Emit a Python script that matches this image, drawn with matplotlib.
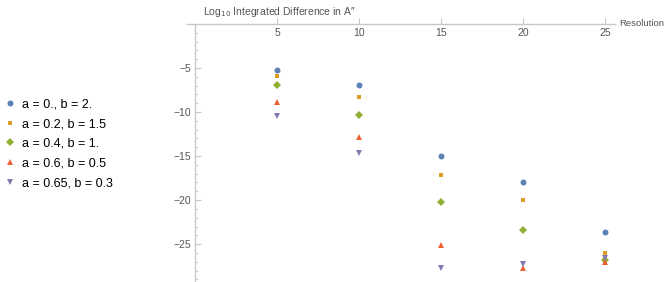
import matplotlib.pyplot as plt
from matplotlib.ticker import MultipleLocator

plt.rcParams['font.family'] = ['Liberation Sans', 'DejaVu Sans']

resolution = [5, 10, 15, 20, 25]
labels = ['a = 0., b = 2.', 'a = 0.2, b = 1.5', 'a = 0.4, b = 1.',
          'a = 0.6, b = 0.5', 'a = 0.65, b = 0.3']
diff_a0 = [-5.26, -6.93, -14.96, -17.9, -23.6]
diff_a02 = [-5.95, -8.26, -17.16, -20.0, -26.06]
diff_a04 = [-6.97, -10.34, -20.26, -23.37, -26.85]
diff_a06 = [-8.85, -12.8, -25.1, -27.7, -27.0]
diff_a065 = [-10.4, -14.6, -27.76, -27.2, -26.55]

series = [diff_a0, diff_a02, diff_a04, diff_a06, diff_a065]
colors = ['#5E81B5', '#E19C24', '#8FB032', '#EB6235', '#8778B3']
markers = ['o', 's', 'D', '^', 'v']
sizes = [4.3, 3.2, 3.8, 4.5, 4.5]

fig = plt.figure(figsize=(6.64, 2.82), dpi=100)
ax = fig.add_axes([187 / 664, 0.0, (615 - 187) / 664, 258 / 282])

for vals, lab, c, m, s in zip(series, labels, colors, markers, sizes):
    ax.plot(resolution, vals, linestyle='none', marker=m, color=c,
            markersize=s, markeredgewidth=0, label=lab, clip_on=False)

ax.set_xlim(-0.5, 25.6)
ax.set_ylim(-29.3, 0)

axis_col = '#c8c8c8'
ax.spines['top'].set_visible(False)
ax.spines['right'].set_visible(False)
ax.spines['left'].set_position(('data', 0))
ax.spines['bottom'].set_position(('data', 0))
for sp in ['left', 'bottom']:
    ax.spines[sp].set_color(axis_col)
    ax.spines[sp].set_linewidth(1.0)

ax.set_xticks([5, 10, 15, 20, 25])
ax.set_yticks([-5, -10, -15, -20, -25])
ax.yaxis.set_minor_locator(MultipleLocator(1))
ax.tick_params(axis='both', which='both', direction='in', colors=axis_col,
               labelcolor='#555555', labelsize=7.5)
ax.tick_params(axis='both', which='major', length=4, width=0.8)
ax.tick_params(axis='y', which='minor', length=2.5, width=0.6)
ax.tick_params(axis='x', pad=3)
ax.tick_params(axis='y', pad=3)

ax.set_yticklabels(['\u22125', '\u221210', '\u221215', '\u221220', '\u221225'])

fig.text(203 / 664, 1 - 12 / 282, 'Log$_{10}$ Integrated Difference in A\u2033',
         fontsize=7.5, color='#555555', va='center', ha='left')
fig.text(619 / 664, 1 - 24 / 282, 'Resolution', fontsize=6.8,
         color='#555555', va='center', ha='left')

fig.legend(loc='center left', bbox_to_anchor=(0.0, 0.49), frameon=False,
           fontsize=9, handlelength=0.8, handletextpad=0.6,
           labelspacing=0.62, borderaxespad=0.2, borderpad=0.2)

fig.savefig('out.png', dpi=100)
